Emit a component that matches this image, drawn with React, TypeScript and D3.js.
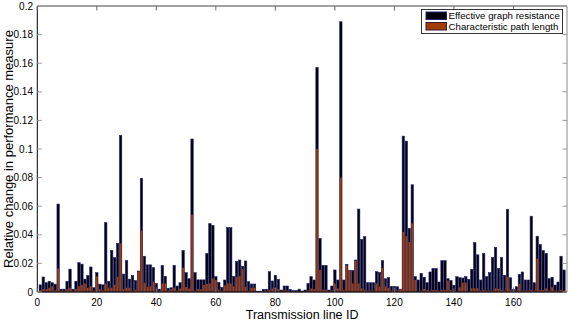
import React from "react";
import * as d3 from "d3";

// Relative change when each transmission line (ID 1..177) is removed
const effectiveGraphResistance: number[] = [
  0.005, 0.0105, 0.0065, 0.0075, 0.0065, 0.0055, 0.0615, 0.002, 0.002, 0.0075,
  0.016, 0.002, 0.0075, 0.0205, 0.0195, 0.009, 0.0115, 0.0175, 0.003, 0.0135,
  0.0055, 0.005, 0.0485, 0.0075, 0.029, 0.024, 0.034, 0.1095, 0.0125, 0.022,
  0.009, 0.0115, 0.008, 0.0147, 0.0795, 0.025, 0.019, 0.019, 0.017, 0.006,
  0.002, 0.0186, 0.011, 0.0026, 0.003, 0.0186, 0.0042, 0.0065, 0.029, 0.0135,
  0.0093, 0.107, 0.0135, 0.0085, 0.0085, 0.0085, 0.027, 0.0478, 0.0466, 0.0107,
  0.0068, 0.0033, 0.0084, 0.045, 0.045, 0.011, 0.0214, 0.0224, 0.018, 0.0217,
  0.0072, 0.0056, 0.0056, 0.0006, 0.0006, 0.0019, 0.0019, 0.0142, 0.0077, 0.0117,
  0.0089, 0.0014, 0.0042, 0.0042, 0.0019, 0.001, 0.001, 0.002, 0.0007, 0.0014,
  0.006, 0.0107, 0.0084, 0.157, 0.0375, 0.0186, 0.0186, 0.0014, 0.0042, 0.0154,
  0.0084, 0.189, 0.0084, 0.0193, 0.015, 0.015, 0.0224, 0.058, 0.0368, 0.0387,
  0.0065, 0.0065, 0.0065, 0.0142, 0.0137, 0.022, 0.0093, 0.0103, 0.004, 0.004,
  0.0037, 0.002, 0.109, 0.1055, 0.0445, 0.075, 0.0107, 0.0084, 0.013, 0.0103,
  0.0065, 0.014, 0.0165, 0.0165, 0.007, 0.0219, 0.0219, 0.0093, 0.008, 0.0047,
  0.0107, 0.01, 0.0098, 0.0107, 0.0089, 0.0158, 0.0345, 0.026, 0.0084, 0.027,
  0.0107, 0.0135, 0.0242, 0.0312, 0.0165, 0.024, 0.0117, 0.0578, 0.01, 0.0019,
  0.0037, 0.0124, 0.014, 0.0084, 0.0084, 0.053, 0.0065, 0.039, 0.0333, 0.029,
  0.027, 0.0093, 0.0103, 0.0049, 0.007, 0.025, 0.0154,
];

const characteristicPathLength: number[] = [
  0.0012, 0.002, 0.002, 0.003, 0.004, 0.0012, 0.0165, 0.001, 0.001, 0.002,
  0.003, 0.001, 0.002, 0.004, 0.005, 0.006, 0.003, 0.004, 0.001, 0.011,
  0.002, 0.0012, 0.006, 0.003, 0.003, 0.005, 0.0105, 0.034, 0.002, 0.003,
  0.003, 0.001, 0.0015, 0.0143, 0.043, 0.0065, 0.0037, 0.004, 0.0072, 0.001,
  0.0008, 0.006, 0.006, 0.001, 0.002, 0.003, 0.001, 0.0025, 0.017, 0.0035,
  0.0025, 0.054, 0.001, 0.002, 0.002, 0.005, 0.0056, 0.006, 0.0095, 0.0084,
  0.0015, 0.001, 0.0047, 0.006, 0.006, 0.004, 0.0107, 0.011, 0.016, 0.0037,
  0.001, 0.003, 0.003, 0.0003, 0.0003, 0.0005, 0.0005, 0.0014, 0.0025, 0.003,
  0.002, 0.0005, 0.001, 0.001, 0.0005, 0.0003, 0.0003, 0.0005, 0.0003, 0.0005,
  0.001, 0.0025, 0.002, 0.1, 0.0154, 0.0015, 0.0015, 0.0005, 0.001, 0.006,
  0.0025, 0.08, 0.0014, 0.0186, 0.015, 0.006, 0.022, 0.006, 0.0025, 0.0015,
  0.001, 0.001, 0.001, 0.006, 0.0037, 0.017, 0.004, 0.003, 0.001, 0.001,
  0.001, 0.0019, 0.042, 0.039, 0.035, 0.048, 0.0084, 0.0005, 0.001, 0.0023,
  0.0014, 0.001, 0.0014, 0.0014, 0.001, 0.0014, 0.0014, 0.008, 0.0014, 0.001,
  0.0005, 0.0033, 0.0065, 0.0065, 0.0005, 0.0026, 0.0026, 0.0026, 0.001, 0.0014,
  0.001, 0.001, 0.001, 0.0026, 0.0023, 0.0014, 0.001, 0.0107, 0.0014, 0.0005,
  0.001, 0.0056, 0.001, 0.001, 0.001, 0.0014, 0.001, 0.0233, 0.0014, 0.0014,
  0.0026, 0.001, 0.0033, 0.001, 0.001, 0.0014, 0.001,
];

const lineIds: number[] = effectiveGraphResistance.map((_, k) => k + 1);

const xTicks: number[] = [0, 20, 40, 60, 80, 100, 120, 140, 160];
const yTicks: number[] = [0, 0.02, 0.04, 0.06, 0.08, 0.1, 0.12, 0.14, 0.16, 0.18, 0.2];
const seriesNames: string[] = ["Effective graph resistance", "Characteristic path length"];

const W = 571;
const H = 320;
const M = { left: 37.3, right: 567, top: 6, bottom: 292 };
const FONT = "'Liberation Sans', Arial, Helvetica, sans-serif";
const BLACK_FILL = "#000008";
const BLACK_EDGE = "#24247e";
const ORANGE = "#a03c06";

export default function App() {
  const x = d3.scaleLinear().domain([0, 178]).range([M.left, M.right]);
  const y = d3.scaleLinear().domain([0, 0.2]).range([M.bottom, M.top]);
  const bw = x(0.8) - x(0);
  const fmt = (v: number) => (v === 0 ? "0" : String(+v.toFixed(2)));
  const tl = 4.5;

  return (
    <svg
      width={W}
      height={H}
      style={{ position: "absolute", left: 0, top: 0, background: "#fff" }}
      fontFamily={FONT}
    >
      <rect x={0} y={0} width={W} height={H} fill="#fff" />
      <g>
        {lineIds.map((id, k) => (
          <rect
            key={"b" + id}
            x={x(id) - bw / 2}
            y={y(effectiveGraphResistance[k])}
            width={bw}
            height={y(0) - y(effectiveGraphResistance[k])}
            fill={BLACK_FILL}
            stroke={BLACK_EDGE}
            strokeWidth={0.6}
          />
        ))}
      </g>
      <g>
        {lineIds.map((id, k) => (
          <rect
            key={"o" + id}
            x={x(id) - bw / 2 + 0.3}
            y={y(characteristicPathLength[k])}
            width={bw - 0.6}
            height={y(0) - y(characteristicPathLength[k])}
            fill={ORANGE}
          />
        ))}
      </g>
      <line x1={M.left} x2={M.right} y1={M.top} y2={M.top} stroke="#444" strokeWidth={1} />
      <line x1={M.right} x2={M.right} y1={M.top} y2={M.bottom} stroke="#888" strokeWidth={1} />
      <line x1={M.left} x2={M.right} y1={M.bottom} y2={M.bottom} stroke="#000" strokeWidth={1} />
      <line x1={M.left} x2={M.left} y1={M.top} y2={M.bottom} stroke="#000" strokeWidth={1} />
      {xTicks.map((t) => (
        <g key={"xt" + t}>
          <line x1={x(t)} x2={x(t)} y1={M.bottom} y2={M.bottom - tl} stroke="#666" />
          <line x1={x(t)} x2={x(t)} y1={M.top} y2={M.top + tl} stroke="#666" />
          <text x={x(t)} y={305.5} fontSize={10} textAnchor="middle" fill="#000">
            {t}
          </text>
        </g>
      ))}
      {yTicks.map((t) => (
        <g key={"yt" + t}>
          <line x1={M.left} x2={M.left + tl} y1={y(t)} y2={y(t)} stroke="#999" />
          <line x1={M.right} x2={M.right - tl} y1={y(t)} y2={y(t)} stroke="#999" />
          <text x={33} y={y(t) + 3.6} fontSize={10} textAnchor="end" fill="#000">
            {fmt(t)}
          </text>
        </g>
      ))}
      <text x={(M.left + M.right) / 2} y={318.5} fontSize={12.5} textAnchor="middle" fill="#000">
        Transmission line ID
      </text>
      <text
        transform={`translate(12.5, ${(M.top + M.bottom) / 2}) rotate(-90)`}
        fontSize={13}
        textAnchor="middle"
        fill="#000"
      >
        Relative change in performance measure
      </text>
      <g>
        <rect x={421.5} y={9.5} width={141} height={24} fill="#fff" stroke="#333" strokeWidth={1} />
        <rect x={426} y={12} width={20.5} height={7.5} fill={BLACK_FILL} stroke={BLACK_EDGE} strokeWidth={1} />
        <rect x={426} y={22.5} width={20.5} height={7.5} fill={ORANGE} stroke="#3a1a30" strokeWidth={1} />
        <text x={448.5} y={19.3} fontSize={9.7} fill="#000">
          {seriesNames[0]}
        </text>
        <text x={448.5} y={30} fontSize={9.7} fill="#000">
          {seriesNames[1]}
        </text>
      </g>
    </svg>
  );
}
